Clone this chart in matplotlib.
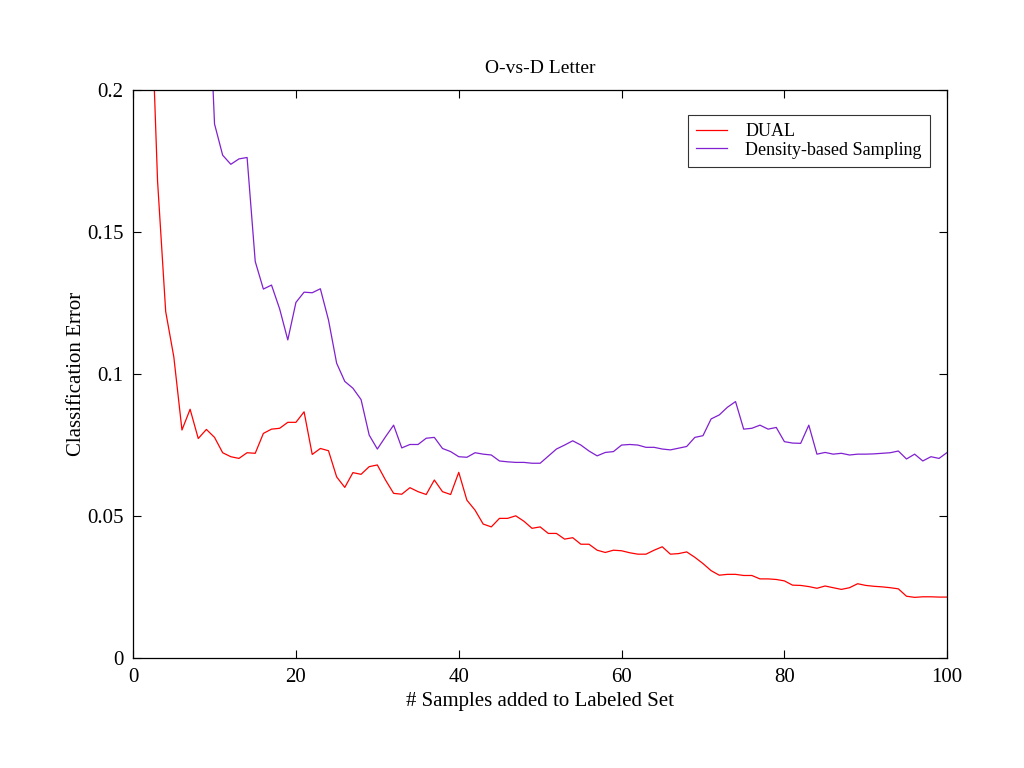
import matplotlib
matplotlib.use("Agg")
import matplotlib.pyplot as plt
from matplotlib.ticker import FuncFormatter

x = list(range(1, 101))

dual = [0.32, 0.25, 0.168, 0.122, 0.106, 0.0803, 0.0876, 0.0773, 0.0805, 0.0777,
        0.0723, 0.0709, 0.0703, 0.0723, 0.0721, 0.0791, 0.0806, 0.0809, 0.0830, 0.0830,
        0.0867, 0.0717, 0.0738, 0.0730, 0.0638, 0.0601, 0.0653, 0.0647, 0.0674, 0.0680,
        0.0627, 0.0580, 0.0577, 0.0600, 0.0586, 0.0576, 0.0627, 0.0586, 0.0576, 0.0654,
        0.0556, 0.0521, 0.0472, 0.0462, 0.0492, 0.0492, 0.0501, 0.0482, 0.0457, 0.0462,
        0.0439, 0.0439, 0.0419, 0.0424, 0.0401, 0.0401, 0.0380, 0.0372, 0.0380, 0.0378,
        0.0371, 0.0366, 0.0366, 0.0380, 0.0392, 0.0366, 0.0368, 0.0374, 0.0355, 0.0333,
        0.0308, 0.0292, 0.0295, 0.0295, 0.0291, 0.0291, 0.0279, 0.0279, 0.0277, 0.0272,
        0.0257, 0.0256, 0.0252, 0.0246, 0.0254, 0.0248, 0.0242, 0.0248, 0.0262, 0.0256,
        0.0253, 0.0251, 0.0248, 0.0244, 0.0218, 0.0214, 0.0216, 0.0216, 0.0215, 0.0215]

density = [0.40, 0.38, 0.36, 0.34, 0.32, 0.30, 0.29, 0.27, 0.255, 0.188,
           0.177, 0.1738, 0.1757, 0.1762, 0.1396, 0.1299, 0.1313, 0.1229, 0.1120, 0.1252,
           0.1288, 0.1286, 0.1300, 0.1190, 0.1038, 0.0974, 0.0950, 0.0910, 0.0785, 0.0736,
           0.0779, 0.0820, 0.0740, 0.0752, 0.0752, 0.0774, 0.0777, 0.0738, 0.0727, 0.0709,
           0.0707, 0.0723, 0.0718, 0.0715, 0.0694, 0.0691, 0.0689, 0.0689, 0.0686, 0.0686,
           0.0711, 0.0736, 0.0750, 0.0765, 0.0750, 0.0729, 0.0712, 0.0724, 0.0727, 0.0750,
           0.0752, 0.0750, 0.0742, 0.0742, 0.0736, 0.0733, 0.0739, 0.0745, 0.0777, 0.0783,
           0.0842, 0.0856, 0.0883, 0.0903, 0.0806, 0.0809, 0.0820, 0.0806, 0.0812, 0.0762,
           0.0757, 0.0756, 0.0820, 0.0718, 0.0724, 0.0718, 0.0721, 0.0715, 0.0718, 0.0718,
           0.0719, 0.0721, 0.0723, 0.0729, 0.0701, 0.0718, 0.0694, 0.0709, 0.0703, 0.0724]

xticks = [0, 20, 40, 60, 80, 100]
yticks = [0, 0.05, 0.1, 0.15, 0.2]

plt.rcParams['font.family'] = ['Liberation Serif', 'DejaVu Serif']

fig = plt.figure(figsize=(10.24, 7.68), dpi=100)
ax = fig.add_axes([0.130, 0.143, 0.795, 0.740])

ax.plot(x, dual, color='#ff0000', lw=0.9, label='DUAL')
ax.plot(x, density, color='#8020d0', lw=0.9, label='Density-based Sampling')

ax.set_xlim(0, 100)
ax.set_ylim(0, 0.2)
ax.set_xticks(xticks)
ax.set_yticks(yticks)
ax.yaxis.set_major_formatter(FuncFormatter(lambda v, p: '%g' % v))
ax.tick_params(direction='in', length=5.5, width=0.8, top=True, right=True,
               labelsize=15, pad=7)
for s in ax.spines.values():
    s.set_linewidth(0.9)

ax.set_title('O-vs-D Letter', fontsize=14, pad=12)
ax.set_xlabel('# Samples added to Labeled Set', fontsize=15, labelpad=4)
ax.set_ylabel('Classification Error', fontsize=15, labelpad=1)

leg = ax.legend(loc='upper right', bbox_to_anchor=(0.979, 0.956), borderaxespad=0,
                fontsize=13, frameon=True, fancybox=False, edgecolor='black',
                handlelength=1.7, handletextpad=1.05, borderpad=0.45, labelspacing=0.1)
leg.get_frame().set_linewidth(0.8)

fig.savefig('out.png', dpi=100, facecolor='white')
